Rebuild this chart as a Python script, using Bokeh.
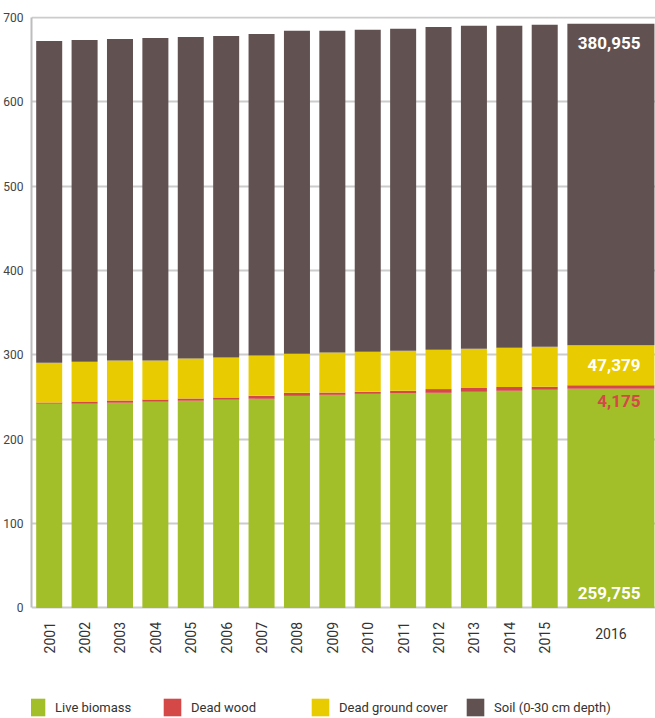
import math
from bokeh.plotting import figure
from bokeh.models import ColumnDataSource, Range1d, FixedTicker, Legend, LegendItem
from bokeh.embed import file_html
from bokeh.resources import INLINE
from bokeh.core.properties import value

# ---- data (thousand tonnes of carbon; 2016 labelled) ----
years = ["2001", "2002", "2003", "2004", "2005", "2006", "2007", "2008",
         "2009", "2010", "2011", "2012", "2013", "2014", "2015", "2016"]
live_biomass = [241.9, 241.9, 243.1, 244.3, 245.5, 246.7, 247.9, 251.4,
                252.6, 253.8, 254.2, 255.0, 256.2, 257.4, 258.6, 259.755]
dead_wood = [1.5, 2.7, 2.7, 2.7, 2.7, 2.7, 3.5, 3.6,
             2.7, 2.4, 3.2, 4.4, 4.5, 4.5, 3.6, 4.175]
dead_ground_cover = [47.2, 47.2, 47.6, 46.4, 47.5, 47.5, 47.9, 46.3,
                     47.6, 47.5, 47.5, 46.7, 46.6, 46.6, 47.5, 47.379]
soil = [381.5, 381.4, 381.0, 382.2, 381.1, 381.1, 381.1, 382.7,
        381.1, 381.5, 381.5, 382.6, 382.6, 381.4, 381.4, 380.955]
y_ticks = [0, 100, 200, 300, 400, 500, 600, 700]
series_names = ["Live biomass", "Dead wood", "Dead ground cover", "Soil (0-30 cm depth)"]
colors = ["#a2be28", "#d44848", "#e8cb00", "#625151"]

FONT = "Roboto"

# ---- layout: narrow slots for 2001-2015, a wide bar for 2016 ----
n = len(years)
xs = [2 * i + 1 for i in range(n - 1)] + [2 * (n - 1) + 2.74]
ws = [1.47] * (n - 1) + [4.92]

src = ColumnDataSource(dict(x=xs, w=ws, live=live_biomass, dw=dead_wood,
                            dgc=dead_ground_cover, soil=soil))

p = figure(frame_width=624, frame_height=702, output_backend="svg", toolbar_location=None,
           x_range=Range1d(0, 2 * (n - 1) + 5.26), y_range=Range1d(-131, 701),
           min_border_left=31, min_border_right=0, min_border_top=16,
           min_border_bottom=0)
p.outline_line_color = None
p.background_fill_color = "white"

rs = p.vbar_stack(["live", "dw", "dgc", "soil"], x="x", width="w", source=src,
                  color=colors, line_color=None)

# y axis
p.yaxis.ticker = FixedTicker(ticks=y_ticks)
p.yaxis.bounds = (y_ticks[0], y_ticks[-1])
p.yaxis.major_tick_line_color = None
p.yaxis.major_tick_out = 0
p.yaxis.major_tick_in = 0
p.yaxis.minor_tick_line_color = None
p.yaxis.minor_tick_out = 0
p.yaxis.axis_line_color = "#bdbdbd"
p.yaxis.axis_line_width = 2
p.yaxis.major_label_text_font = FONT
p.yaxis.major_label_text_font_size = "12px"
p.yaxis.major_label_text_color = "#444444"
p.yaxis.major_label_standoff = 8
p.xaxis.visible = False

p.xgrid.grid_line_color = None
p.ygrid.ticker = FixedTicker(ticks=y_ticks)
p.ygrid.grid_line_color = "#cccccc"
p.ygrid.grid_line_width = 2

# year labels under the bars: vertical for 2001-2015, horizontal for 2016
yl = ColumnDataSource(dict(
    x=xs, y=[0] * n, text=years,
    angle=[math.pi / 2] * (n - 1) + [0.0],
    align=["right"] * (n - 1) + ["center"],
    base=["middle"] * (n - 1) + ["top"],
    yo=[14] * (n - 1) + [20],
))
p.text(x="x", y="y", text="text", angle="angle", source=yl, text_align="align",
       text_baseline="base", y_offset="yo", text_font=value(FONT),
       text_font_size="14px", text_color="#333333")

# value labels inside the 2016 bar
g, d, c, s = live_biomass[-1], dead_wood[-1], dead_ground_cover[-1], soil[-1]
right = xs[-1] + ws[-1] / 2
lab = ColumnDataSource(dict(
    x=[right] * 4,
    y=[g + d + c + s, g + d + c / 2, g, 0],
    text=[f"{v * 1000:,.0f}" for v in (s, c, d, g)],
    color=["white", "white", colors[1], "white"],
    base=["top", "middle", "top", "bottom"],
    yo=[13, 0, 6, -9],
))
p.text(x="x", y="y", text="text", source=lab, text_color="color",
       text_baseline="base", text_align="right", x_offset=-14, y_offset="yo",
       text_font=value(FONT), text_font_style="bold", text_font_size="17px")

# legend: one entry per column position along the bottom
legend_x = [-6, 130, 278, 433]
for nm, r, lx in zip(series_names, rs, legend_x):
    lg = Legend(items=[LegendItem(label=nm, renderers=[r])],
                orientation="horizontal", glyph_width=22, glyph_height=22,
                label_standoff=8, spacing=0, padding=0, margin=0,
                border_line_color=None, background_fill_alpha=0,
                label_text_font=FONT, label_text_font_size="13px",
                label_text_color="#333333", location=(lx, 0))
    p.add_layout(lg, "center")

open("out.html", "w").write(file_html(p, INLINE))
